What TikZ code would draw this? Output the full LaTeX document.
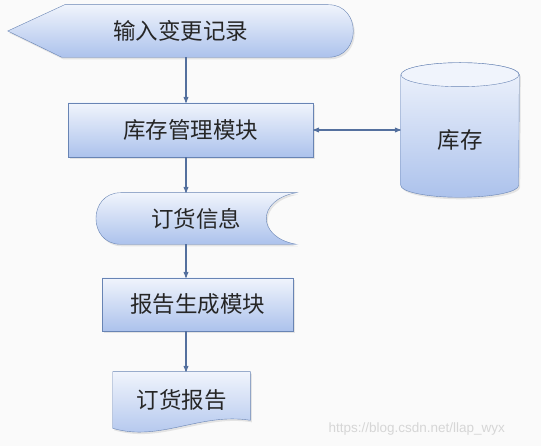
\documentclass[tikz,border=0pt]{standalone}
\usepackage{fontspec}
\setmainfont{Noto Sans CJK SC}
\setsansfont{Liberation Sans}
\usetikzlibrary{arrows,shadows}

\definecolor{linec}{RGB}{104,132,180}
\definecolor{arrc}{RGB}{84,112,158}
\definecolor{topc}{RGB}{240,244,252}
\definecolor{botc}{RGB}{172,194,236}

\pgfdeclarelayer{background}
\pgfsetlayers{background,main}

\begin{document}
\begin{tikzpicture}[x=1pt,y=-1pt,>=stealth',semithick,
    blk/.style={-,draw=linec,top color=topc,bottom color=botc,
      drop shadow={opacity=0.18,shadow xshift=1.5pt,shadow yshift=-2pt}},
    txt/.style={inner sep=0pt,font=\fontsize{22.5}{26}\selectfont,text=black!85},
    arr/.style={->,draw=arrc,line width=1.1pt}]
  \useasboundingbox (0,0) rectangle (541,446);
  \coordinate (spine) at (186,0);

  \node[txt,minimum width=345pt,minimum height=52pt] (inp) at (180.5,31) {输入变更记录};
  \node[txt,blk,minimum width=245pt,minimum height=54pt] (mgr) at (190.5,130) {库存管理模块};
  \node[txt,minimum width=118pt,minimum height=134pt,
        label={[txt,yshift=-10pt]center:库存}] (stock) at (460,130) {};
  \node[txt,minimum width=200pt,minimum height=51pt] (info) at (196,218.5) {订货信息};
  \node[txt,blk,minimum width=191pt,minimum height=53pt] (gen) at (197.5,304.5) {报告生成模块};
  \node[txt,minimum width=137pt,minimum height=56pt] (rep) at (181.5,400) {订货报告};

  \begin{pgfonlayer}{background}
    \fill[black!2] (0,0) rectangle (541,446);
    % display
    \path[blk] (inp.west) -- ([xshift=57pt]inp.north west) -- ([xshift=-25pt]inp.north east)
      .. controls ([xshift=-8pt]inp.north east) and ([yshift=13pt]inp.east) .. (inp.east)
      .. controls ([yshift=-13pt]inp.east) and ([xshift=-8pt]inp.south east) .. ([xshift=-25pt]inp.south east)
      -- ([xshift=54pt]inp.south west) -- cycle;
    % database
    \path[blk] ([yshift=-12pt]stock.north west) -- ([yshift=12pt]stock.south west)
      arc[start angle=180,end angle=360,x radius=59pt,y radius=12pt]
      -- ([yshift=-12pt]stock.north east)
      arc[start angle=0,end angle=180,x radius=59pt,y radius=12pt] -- cycle;
    \path[-,draw=linec,fill=topc] ([yshift=-12pt]stock.north) ellipse[x radius=59pt,y radius=12pt];
    % stored data
    \path[blk] ([xshift=25pt]info.north west) -- (info.north east)
      .. controls ([xshift=-40pt,yshift=-7pt]info.north east) and ([xshift=-40pt,yshift=7pt]info.south east) .. (info.south east)
      -- ([xshift=25pt]info.south west)
      .. controls ([xshift=-8pt]info.south west) and ([xshift=-8pt]info.north west) .. ([xshift=25pt]info.north west)
      -- cycle;
    % document
    \path[blk] (rep.north west) -- (rep.north east) -- ([yshift=8pt]rep.south east)
      .. controls ([xshift=-50pt,yshift=16pt]rep.south east) and ([xshift=47pt,yshift=-14pt]rep.south west) .. (rep.south west)
      -- cycle;
  \end{pgfonlayer}

  \draw[arr] (inp.south -| spine) -- (mgr.north -| spine);
  \draw[arr] (mgr.south -| spine) -- (info.north -| spine);
  \draw[arr] (info.south -| spine) -- (gen.north -| spine);
  \draw[arr] (gen.south -| spine) -- (rep.north -| spine);
  \draw[arr,<->] (mgr.east) -- (stock.west);

  \node[anchor=west,font=\sffamily\fontsize{13.5}{16}\selectfont,text=black!16] (wm) at (325,429)
    {https://blog.csdn.net/llap\_wyx};
\end{tikzpicture}
\end{document}
